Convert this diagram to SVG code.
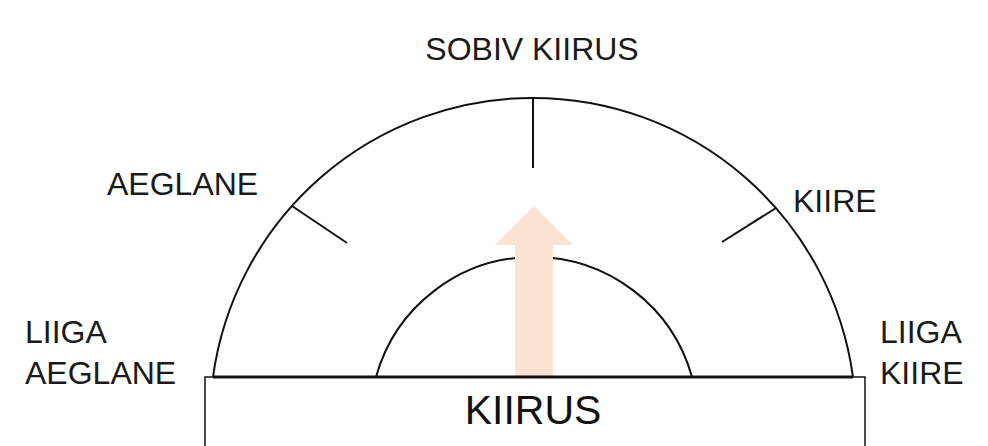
<svg xmlns="http://www.w3.org/2000/svg" width="988" height="446" viewBox="0 0 988 446">
<style>
.lbl{font-family:"Liberation Sans",Arial,sans-serif;font-size:32px;fill:#1a1a1a}
.big{font-family:"Liberation Sans",Arial,sans-serif;font-size:41px;fill:#111}
.ln{fill:none;stroke:#111;stroke-width:2}
</style>
<rect width="988" height="446" fill="#fff"/>
<g id="connectors">
<path class="ln" d="M213,377 A323,323 0 0 1 853,377"/>
<path class="ln" d="M376,377 A164,164 0 0 1 692,377"/>
<line class="ln" x1="533" y1="98" x2="533" y2="168" stroke-width="3"/>
<line class="ln" x1="292" y1="206" x2="347" y2="243" stroke-width="3"/>
<line class="ln" x1="776" y1="208" x2="722" y2="242" stroke-width="3"/>
</g>
<g id="arrow">
<polygon points="515,377 515,245 495,245 534,206 573,245 553,245 553,377" fill="#fbe3d4"/>
</g>
<g id="box">
<rect x="205" y="377" width="660" height="80" fill="#fff" stroke="#111" stroke-width="1.5"/>
<line x1="213" y1="377" x2="853" y2="377" stroke="#111" stroke-width="3"/>
<text class="big" x="533" y="424" text-anchor="middle">KIIRUS</text>
</g>
<g id="sobiv"><text class="lbl" x="532" y="60" text-anchor="middle">SOBIV KIIRUS</text></g>
<g id="aeglane"><text class="lbl" x="107" y="195">AEGLANE</text></g>
<g id="kiire"><text class="lbl" x="793" y="212">KIIRE</text></g>
<g id="liiga-aeglane"><text class="lbl" x="25" y="343">LIIGA</text><text class="lbl" x="25" y="384">AEGLANE</text></g>
<g id="liiga-kiire"><text class="lbl" x="880" y="343">LIIGA</text><text class="lbl" x="880" y="384">KIIRE</text></g>
</svg>
